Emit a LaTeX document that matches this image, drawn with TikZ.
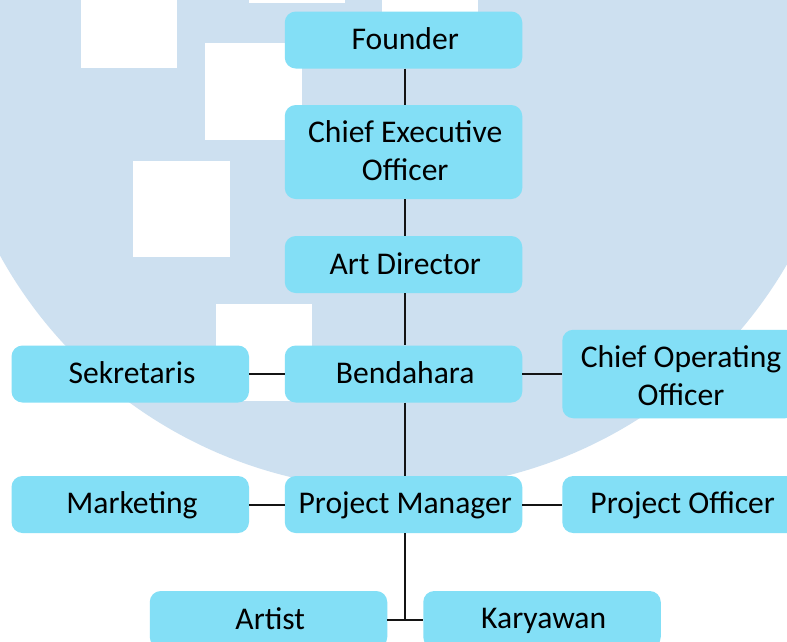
\documentclass[tikz,border=0pt]{standalone}
\usepackage{fontspec}
\setmainfont{Carlito}
\definecolor{disc}{HTML}{CDE0F0}
\definecolor{boxfill}{HTML}{83DFF6}
\definecolor{linecol}{HTML}{141414}
\newcommand{\lnstrut}{\rule[-3.5pt]{0pt}{26.5pt}\hspace*{3.4pt}}
\tikzset{
  orgbox/.style={fill=boxfill,rounded corners=11pt,minimum width=237.5pt,inner sep=0pt,
    align=center,text=black,font=\fontsize{31.6pt}{38pt}\selectfont},
  oneline/.style={orgbox,minimum height=57pt},
  conn/.style={draw=linecol,line width=2pt},
  patch/.style={fill=white}
}
\begin{document}
\begin{tikzpicture}[x=1pt,y=-1pt]
\useasboundingbox (0,0) rectangle (787,641);
\clip (0,0) rectangle (787,641);
\fill[white] (0,0) rectangle (787,641);
\fill[disc] (396,37.4) circle[radius=452];
\fill[patch] (81,-30) rectangle (177,68);
\fill[patch] (205,43) rectangle (301.5,139.5);
\fill[patch] (133,161) rectangle (229.5,257);
\fill[patch] (216,304) rectangle (312,400.5);
\fill[patch] (249,-30) rectangle (345,2.5);
\fill[patch] (381.5,-30) rectangle (478,12.5);
\node[oneline] (founder) at (403.5,40) {\lnstrut Founder};
\node[orgbox,minimum height=94pt] (ceo) at (403.5,152) {\lnstrut Chief Executive\\\lnstrut Officer};
\node[oneline] (art) at (403.5,264.5) {\lnstrut Art Director};
\node[oneline] (bend) at (403.5,374) {\lnstrut Bendahara};
\node[oneline] (sek) at (130.25,374) {\lnstrut Sekretaris};
\node[orgbox,minimum width=234pt,minimum height=88.5pt] (coo) at (679.3,374) {\rule{0pt}{28pt}\hspace*{3.4pt}Chief Operating\\\lnstrut Officer};
\node[oneline] (pm) at (403.5,504.5) {\lnstrut Project Manager};
\node[oneline] (mkt) at (130.25,504.5) {\lnstrut Marketing};
\node[oneline] (po) at (681,504.5) {\lnstrut Project Officer};
\node[oneline] (artist) at (268.5,619.5) {\lnstrut Artist};
\node[oneline] (kar) at (542,619.5) {\lnstrut Karyawan};
\draw[conn] ([xshift=1.5pt]founder.south) -- ([xshift=1.5pt]ceo.north);
\draw[conn] ([xshift=1.5pt]ceo.south) -- ([xshift=1.5pt]art.north);
\draw[conn] ([xshift=1.5pt]art.south) -- ([xshift=1.5pt]bend.north);
\draw[conn] ([xshift=1.5pt]bend.south) -- ([xshift=1.5pt]pm.north);
\draw[conn] (sek) -- (bend);
\draw[conn] (bend) -- (coo.west |- bend.east);
\draw[conn] (mkt) -- (pm);
\draw[conn] (pm) -- (po);
\draw[conn] (artist) -- (kar);
\coordinate (junction) at ([xshift=1.5pt]pm.south |- artist.east);
\draw[conn] ([xshift=1.5pt]pm.south) -- (junction);
\end{tikzpicture}
\end{document}
